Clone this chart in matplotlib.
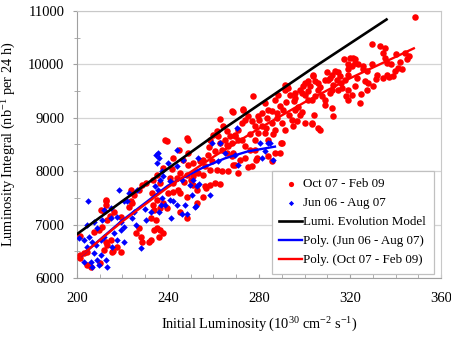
import numpy as np
import matplotlib
matplotlib.use("Agg")
import matplotlib.pyplot as plt

# Oct 07 - Feb 09 (red circles)
red_x = [348.6, 329.5, 333.2, 335.4, 334.6, 335.4, 336.1, 344.2, 344.9, 341, 343, 339.8, 336.1, 331.7,
         329.5, 327.3, 325.8, 323.6, 322.2, 320, 319.3, 319.3, 319.3, 317.5, 317.8, 314.9, 313.4, 312,
         311.2, 310.5, 314.2, 312.5, 312, 311.2, 314.9, 316.4, 319.3, 322.2, 320.7, 319.3, 326.6, 327.3,
         331.5, 334.5, 337, 339, 324.4, 309, 312, 312.7, 306, 307.6, 309, 304.6, 306, 303.9, 304.6, 302.4,
         301.7, 300.2, 303.2, 301.7, 303.2, 306,
         321.5, 322.2, 320.8, 315.6, 325.8, 303.9, 301.7, 299.5, 298, 295.8, 293.6, 292.2, 291.4,
         291.4, 292.9, 277.5, 268, 273.1, 300.2, 298.8, 295.8, 295.4, 288.5, 287, 289.2, 290.7, 287.8,
         285.6, 282.6, 284.1, 281.2, 279.7, 283.4, 275.3, 276.8, 273.8, 272.4, 278.2, 294.4, 296.6, 300.2,
         295.1, 304, 290, 291.4, 287, 285.6, 281.2, 282.6, 279.7, 278.2, 284.1, 270.9, 269.5, 272.4, 268,
         273.8, 265, 266.5, 265.8, 268, 290, 289.2, 287, 276, 278.2, 273.8, 279, 276.8, 284.1, 285.6,
         271.6, 269.5,
         268.4, 264.3, 265.8, 261.4, 259.9, 262.1, 258.5, 267.3, 269.5, 270.9, 265.8, 262.9, 248.2, 248.9,
         238.7, 239.4, 260.7, 263.6, 268.7, 257.7, 255.5, 259.2, 246.7, 248.9, 251.1, 254.1, 242.3, 256.3,
         258.5, 261.4, 263.6, 266.5, 268.7, 253.3, 255.5, 251.1, 248.2, 245.3, 243.8, 240.9, 242.3, 237.9,
         235, 233.5, 236.5, 244.5, 245.3, 242.3, 240.1, 251.1, 252.6, 256.3, 258.5, 260.7, 262.9, 235,
         237.9, 233.5, 236.5, 239.4, 248.2, 255.5, 232.8,
         228.7, 230.2, 227.3, 225.1, 212.6, 212.6, 210.5, 216.3, 219.2, 207.5, 211.1, 213.3, 209.7, 222.9,
         224.3, 233.8, 232.4, 234.6, 235.3, 233.8, 232.4, 236, 201.6, 201.6, 203.1, 201.3, 213.3, 211.9,
         215.5, 214.8, 217.7, 219.2, 206, 204.5, 210, 227.3, 225.8, 228, 231.6, 228.7,
         248.6, 245.3, 238, 236.6, 252.6, 252.2, 256.6, 270.9, 275.3, 278.7, 289.7, 303.4, 306.8, 214.5,
         215.7, 213, 204.5, 212.7, 211.9, 224, 223.6, 273, 262.9,
         297, 299, 293, 296, 250, 247, 242, 245, 249, 258, 276, 280, 283, 286, 288, 292, 298, 307, 309,
         316, 323, 328, 330, 310, 338, 340, 346, 342, 318, 325]
red_y = [10893, 10373, 10342, 10311, 10217, 10124, 10030, 10217, 10105, 9940, 9920, 9873, 9810, 9792,
         9998, 9873, 9966, 9998, 10092, 10120, 9998, 9904, 9810, 10092, 9716, 9848, 9873, 9810,
         9748, 9716, 9716, 9623, 9529, 9467, 9529, 9561, 9529, 9591, 9435, 9341, 9685, 9529,
         9720, 9750, 9770, 9790, 9279, 9247, 9185, 9028, 9529, 9403, 9341, 9403, 9654, 9779, 9685, 9591,
         9497, 9435, 9341, 9341, 8909, 8815,
         10124, 10030, 9966, 9779, 9904, 9810, 9685, 9591, 9529, 9467, 9435, 9591, 9623,
         9529, 9561, 9403, 9122, 9153, 9654, 9467, 9373, 9310, 9435, 9341, 9216, 9153, 9091,
         9122, 9279, 9153, 9091, 9028, 8997, 9028, 8934, 8966, 8903, 8840, 8966, 8934, 8903,
         8840, 9060, 8903, 8778, 8778, 8903, 8840, 8716, 8716, 8590, 8590, 8778, 8652, 8590, 8528,
         8465, 8590, 8465, 8340, 8277, 8528, 8340, 8340, 8403, 8403, 8246, 8246, 8089, 8277, 8183,
         8215, 8121,
         9103, 8840, 8746, 8746, 8684, 8652, 8590, 8652, 8684, 8590, 8497, 8528, 8622, 8590,
         8590, 8559, 8371, 8403, 8340, 8309, 8215, 8183, 8215, 8121, 8152, 8183, 8246, 8089,
         8027, 8027, 7995, 7995, 8121, 7965, 7933, 7901, 7933, 7965, 7871, 7871, 7777, 8059,
         7933, 7840, 7777, 7652, 7590, 7620, 7590, 7746, 7652, 7714, 7746, 7777, 7760, 7464,
         7402, 7370, 7308, 7308, 7526, 7526, 7590,
         7746, 7777, 7652, 7558, 7433, 7370, 7276, 7245, 7151, 6870, 6963, 7089, 6901, 7339,
         7402, 7276, 7120, 7089, 6932, 6901, 6713, 6775, 6432, 6370, 6463, 6780, 6619, 6526,
         6494, 6713, 6588, 6494, 6212, 6244, 6280, 6932, 6839, 6775, 6681, 6681,
         7127, 7240, 6845, 6895, 7408, 7990, 7690, 7970, 8080, 8210, 8535, 8892, 8767, 7170,
         6500, 6676, 6490, 7452, 7246, 7440, 7646, 9160, 8974,
         9200, 9100, 9050, 9150, 7830, 7800, 8050, 8400, 8350, 8450, 8700, 8950, 8800, 8700, 9000, 9300,
         9050, 9580, 9700, 9650, 9750, 9650, 9600, 9850, 10000, 10200, 10150, 10050, 9400, 9450]

# Jun 06 - Aug 07 (blue diamonds)
blue_x = [234.6, 236, 235.3, 218.5, 222.9, 226.5, 220.7, 204.8, 211.9, 214.8, 211.1, 207.5, 204.5, 208.9,
          214.8, 217.7, 219.2, 220.7, 224.3, 225.1, 230.2, 232.4, 236, 236.8, 237.5, 200.9, 203.1, 205.3,
          206.7, 204.5, 208.2, 210.4, 211.9, 216.3, 219.2, 217.7, 220.7, 215.5, 207.5, 210.4, 208.9, 212.6,
          206, 203.1, 213.3, 209.7, 206.7, 228,
          235.7, 240.1, 243.8, 246.7, 243.8, 237.2, 237.9, 236.5, 234.3, 235.7, 240.9, 259.2, 262.9, 265.1,
          262.1, 269.5, 253.3, 251.1, 249.7, 252.6, 246, 250.4, 258.5, 243.8, 251.9, 247.5, 238.7, 240.9,
          280.4, 284.1, 281.2, 286.3, 270.9, 270.2,
          241.3, 246.4, 248.2, 252.3, 242.3, 282.7, 284.8, 253.6, 222, 230, 226]
blue_y = [8309, 8246, 8152, 7652, 7590, 7652, 7433, 7445, 7276, 7308, 7089, 7057, 6995, 6932,
          7120, 7151, 7057, 6963, 7120, 7245, 7089, 7245, 7245, 7370, 7496, 6745, 6713, 6775,
          6681, 6588, 6619, 6713, 6775, 6839, 6901, 6713, 6681, 6588, 6463, 6432, 6338, 6338,
          6306, 6306, 6212, 6244, 6212, 6557,
          8340, 8152, 8403, 8215, 8089, 7995, 7901, 7840, 7714, 7652, 7808, 8528, 8528, 8340,
          8183, 8309, 8246, 7840, 7746, 7714, 7840, 7560, 7558, 7370, 7339, 7370, 7370, 7464,
          8528, 8528, 8246, 8215, 8121, 8809,
          7127, 7208, 7190, 7346, 7440, 8372, 8535, 7752, 7450, 7300, 7000]

# Lumi. Evolution Model
model_x = [200, 220, 265, 305, 336]
model_y = [6820, 7440, 8810, 9970, 10840]

# Poly. (Jun 06 - Aug 07)
poly_blue_x = [202, 220, 240, 255, 265, 275, 287]
poly_blue_y = [6420, 7080, 7730, 8060, 8240, 8370, 8460]

# Poly. (Oct 07 - Feb 09)
poly_red_x = [201, 220, 240, 260, 280, 300, 320, 340, 348]
poly_red_y = [6390, 7060, 7700, 8270, 8800, 9290, 9740, 10140, 10300]

plt.rcParams['font.family'] = ['Liberation Serif', 'DejaVu Serif']
plt.rcParams['mathtext.default'] = 'regular'

fig = plt.figure(figsize=(4.52, 3.42), dpi=100)
ax = fig.add_axes([0.170, 0.187, 0.806, 0.781])

ax.scatter(red_x, red_y, s=22, color='#ff0000', marker='o', linewidths=0, zorder=3,
           label='Oct 07 - Feb 09')
ax.scatter(blue_x, blue_y, s=11, color='#0000ff', marker='D', linewidths=0, zorder=3,
           label='Jun 06 - Aug 07')
ax.plot(model_x, model_y, color='black', lw=1.9, zorder=4, label='Lumi. Evolution Model')
ax.plot(poly_blue_x, poly_blue_y, color='#0000ff', lw=1.7, zorder=4, label='Poly. (Jun 06 - Aug 07)')
ax.plot(poly_red_x, poly_red_y, color='#ff0000', lw=1.7, zorder=4, label='Poly. (Oct 07 - Feb 09)')

ax.set_xlim(200, 360)
ax.set_ylim(6000, 11000)
ax.set_xticks([200, 240, 280, 320, 360])
ax.set_xticks(np.arange(200, 361, 10), minor=True)
ax.set_yticks(np.arange(6000, 11001, 1000))
ax.set_yticks(np.arange(6500, 11000, 1000), minor=True)
ax.grid(axis='y', which='major', color='#d4d4d4', lw=0.9, zorder=0)

for sp in ax.spines.values():
    sp.set_color('#c8c8c8')
ax.spines['left'].set_color('#a0a0a0')
ax.spines['bottom'].set_color('#a0a0a0')

ax.tick_params(axis='x', which='both', direction='in', length=3, color='#a0a0a0',
               labelsize=10.5, pad=10)
ax.tick_params(axis='y', which='major', direction='out', length=3, color='#a0a0a0',
               labelsize=10.5, pad=6)
ax.tick_params(axis='y', which='minor', direction='inout', length=4, color='#a0a0a0')

ax.set_xlabel('Initial Luminosity (10$^{30}$ cm$^{-2}$ s$^{-1}$)', fontsize=10.4, labelpad=8)
ax.set_ylabel('Luminosity Integral (nb$^{-1}$ per 24 h)', fontsize=10.4, labelpad=7)

leg = ax.legend(loc='lower right', bbox_to_anchor=(0.979, 0.015), fontsize=9.4,
                fancybox=False, framealpha=1, edgecolor='#c0c0c0', handlelength=1.7,
                labelspacing=0.52, borderpad=0.6, handletextpad=0.1, scatterpoints=1,
                markerscale=0.8, borderaxespad=0)
leg.get_frame().set_linewidth(0.9)

fig.savefig('out.png', dpi=100)
